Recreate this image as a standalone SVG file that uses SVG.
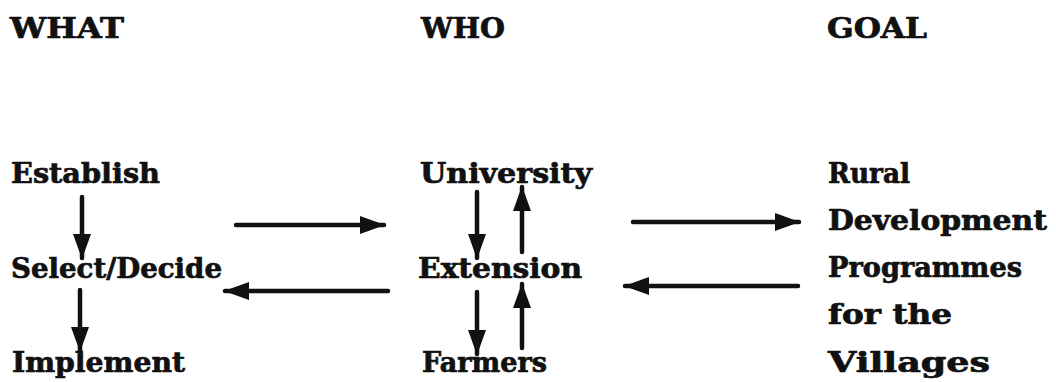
<svg xmlns="http://www.w3.org/2000/svg" width="1056" height="382" viewBox="0 0 1056 382">
  <style>
    text { font-family: "DejaVu Serif", "Liberation Serif", serif; font-weight: bold; font-size: 27px; fill: #111; stroke: #111; stroke-width: 0.7px; }
    .arrow { stroke: #111; stroke-width: 4.5; stroke-linecap: round; fill: none; }
  </style>
  <defs>
    <!-- solid triangular arrowhead shared by every connector -->
    <marker id="head" markerUnits="userSpaceOnUse" markerWidth="28" markerHeight="24" refX="24" refY="11" orient="auto">
      <path d="M0,2 L25,11 L0,20 Z" fill="#111"/>
    </marker>
  </defs>
  <rect width="1056" height="382" fill="#fff"/>

  <!-- column headings -->
  <g id="heading-what"><text x="10" y="38" textLength="114" lengthAdjust="spacingAndGlyphs">WHAT</text></g>
  <g id="heading-who"><text x="421" y="38" textLength="84" lengthAdjust="spacingAndGlyphs">WHO</text></g>
  <g id="heading-goal"><text x="827" y="38" textLength="100" lengthAdjust="spacingAndGlyphs">GOAL</text></g>

  <!-- WHAT column -->
  <g id="establish"><text x="11" y="183" textLength="149" lengthAdjust="spacingAndGlyphs">Establish</text></g>
  <g id="select-decide"><text x="11" y="278" textLength="211" lengthAdjust="spacingAndGlyphs">Select/Decide</text></g>
  <g id="implement"><text x="12" y="372" textLength="173" lengthAdjust="spacingAndGlyphs">Implement</text></g>

  <!-- WHO column -->
  <g id="university"><text x="420" y="183" textLength="172" lengthAdjust="spacingAndGlyphs">University</text></g>
  <g id="extension"><text x="418" y="278" textLength="164" lengthAdjust="spacingAndGlyphs">Extension</text></g>
  <g id="farmers"><text x="422" y="372" textLength="125" lengthAdjust="spacingAndGlyphs">Farmers</text></g>

  <!-- GOAL column -->
  <g id="goal">
    <text x="828" y="183" textLength="82" lengthAdjust="spacingAndGlyphs">Rural</text>
    <text x="828" y="230" textLength="219" lengthAdjust="spacingAndGlyphs">Development</text>
    <text x="828" y="277" textLength="194" lengthAdjust="spacingAndGlyphs">Programmes</text>
    <text x="828" y="324" textLength="124" lengthAdjust="spacingAndGlyphs">for the</text>
    <text x="828" y="372" textLength="162" lengthAdjust="spacingAndGlyphs">Villages</text>
  </g>

  <!-- connectors -->
  <g id="connectors">
    <!-- WHAT column flow -->
    <line class="arrow" x1="82" y1="197" x2="82" y2="258" marker-end="url(#head)"/>
    <line class="arrow" x1="80" y1="290" x2="80" y2="351" marker-end="url(#head)"/>
    <!-- WHAT <-> WHO -->
    <line class="arrow" x1="236" y1="225" x2="384" y2="225" marker-end="url(#head)"/>
    <line class="arrow" x1="388" y1="291" x2="225" y2="291" marker-end="url(#head)"/>
    <!-- University <-> Extension -->
    <line class="arrow" x1="477" y1="192" x2="477" y2="258" marker-end="url(#head)"/>
    <line class="arrow" x1="522" y1="252" x2="522" y2="187" marker-end="url(#head)"/>
    <!-- Extension <-> Farmers -->
    <line class="arrow" x1="477" y1="292" x2="477" y2="354" marker-end="url(#head)"/>
    <line class="arrow" x1="522" y1="348" x2="522" y2="284" marker-end="url(#head)"/>
    <!-- WHO <-> GOAL -->
    <line class="arrow" x1="633" y1="222" x2="799" y2="222" marker-end="url(#head)"/>
    <line class="arrow" x1="798" y1="286" x2="625" y2="286" marker-end="url(#head)"/>
  </g>
</svg>
